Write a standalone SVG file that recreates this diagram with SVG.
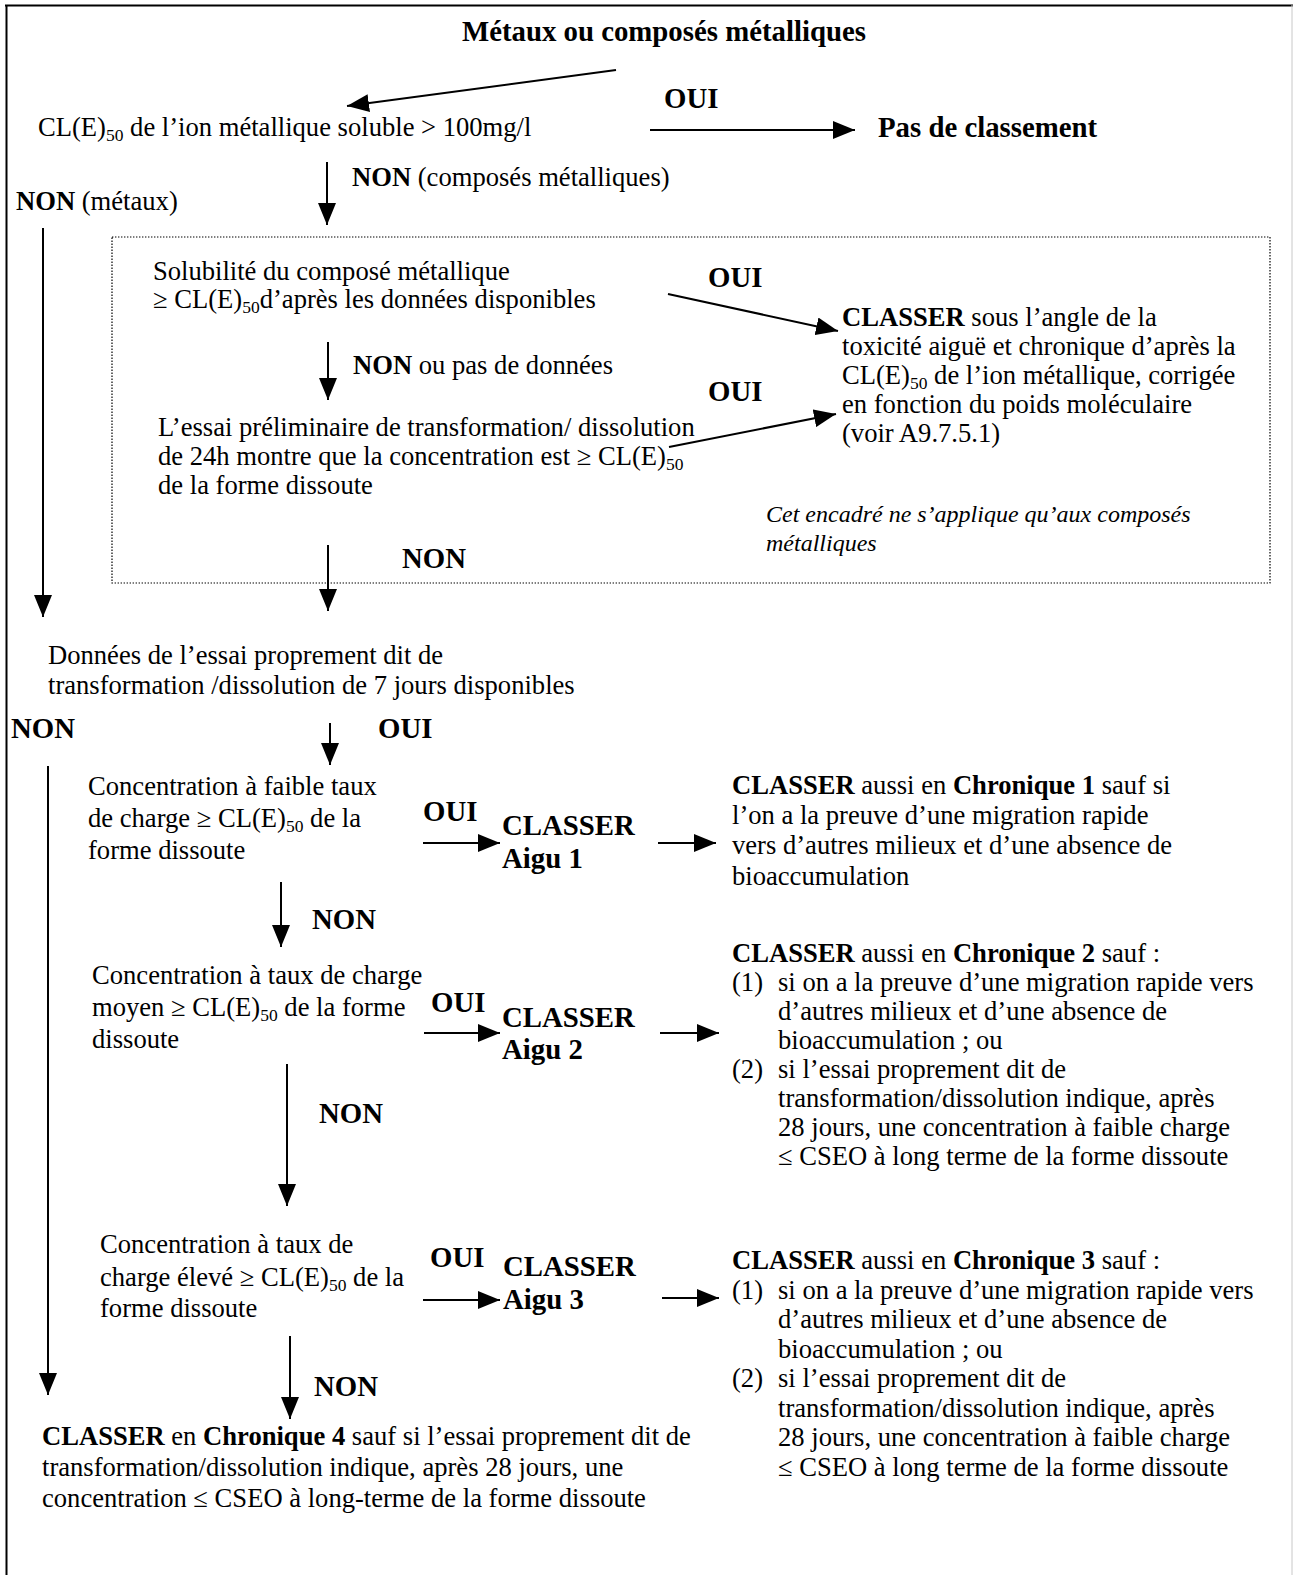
<svg xmlns="http://www.w3.org/2000/svg" width="1293" height="1575" viewBox="0 0 1293 1575">
<style>
.t{font-family:"Liberation Serif","Times New Roman",serif;font-size:26.6px;fill:#000}
.b{font-weight:bold}
.lbl{font-weight:bold;font-size:28.8px}
.s{font-size:17.5px}
.it{font-style:italic;font-size:24px}
.c{stroke:#000;stroke-width:2;fill:none;marker-end:url(#ah)}
.frame{stroke:#000;stroke-width:2;fill:none}
</style>
<defs>
<marker id="ah" viewBox="0 0 22 18" markerWidth="22" markerHeight="18" refX="22" refY="9" orient="auto" markerUnits="userSpaceOnUse">
<path d="M0,0 L22,9 L0,18 z" fill="#000"/>
</marker>
</defs>
<rect width="1293" height="1575" fill="#fff"/>
<g id="frame">
<line class="frame" x1="5" y1="5.5" x2="1293" y2="5.5"/>
<line class="frame" x1="6.5" y1="5" x2="6.5" y2="1575"/>
<line x1="1292" y1="5" x2="1292" y2="1575" stroke="#c8c8c8" stroke-width="1"/>
<rect id="metal-compounds-box" x="112" y="237" width="1158" height="346" fill="none" stroke="#000" stroke-width="1.2" stroke-dasharray="1.4 1.6"/>
</g>

<g id="connectors">
<line class="c" x1="616" y1="70" x2="347" y2="106"/>
<line class="c" x1="650" y1="130" x2="855" y2="130"/>
<line class="c" x1="327" y1="162" x2="327" y2="225"/>
<line class="c" x1="43" y1="228" x2="43" y2="617"/>
<line class="c" x1="668" y1="294" x2="838" y2="331"/>
<line class="c" x1="328" y1="342" x2="328" y2="400"/>
<line class="c" x1="669" y1="447" x2="836" y2="414"/>
<line class="c" x1="328" y1="545" x2="328" y2="611"/>
<line class="c" x1="330" y1="723" x2="330" y2="765"/>
<line class="c" x1="48" y1="766" x2="48" y2="1395"/>
<line class="c" x1="423" y1="843" x2="500" y2="843"/>
<line class="c" x1="658" y1="843" x2="716" y2="843"/>
<line class="c" x1="281" y1="882" x2="281" y2="947"/>
<line class="c" x1="424" y1="1033" x2="500" y2="1033"/>
<line class="c" x1="660" y1="1033" x2="719" y2="1033"/>
<line class="c" x1="287" y1="1064" x2="287" y2="1206"/>
<line class="c" x1="423" y1="1300" x2="500" y2="1300"/>
<line class="c" x1="662" y1="1298" x2="719" y2="1298"/>
<line class="c" x1="290" y1="1336" x2="290" y2="1419"/>
</g>

<g id="labels">
<text class="t lbl" x="664" y="108">OUI</text>
<text class="t" x="352" y="186"><tspan class="b">NON</tspan> (composés métalliques)</text>
<text class="t" x="16" y="210"><tspan class="b">NON</tspan> (métaux)</text>
<text class="t lbl" x="708" y="287">OUI</text>
<text class="t" x="353" y="374"><tspan class="b">NON</tspan> ou pas de données</text>
<text class="t lbl" x="708" y="401">OUI</text>
<text class="t lbl" x="402" y="568">NON</text>
<text class="t lbl" x="11" y="738">NON</text>
<text class="t lbl" x="378" y="738">OUI</text>
<text class="t lbl" x="423" y="821">OUI</text>
<text class="t lbl" x="312" y="929">NON</text>
<text class="t lbl" x="431" y="1012">OUI</text>
<text class="t lbl" x="319" y="1123">NON</text>
<text class="t lbl" x="430" y="1267">OUI</text>
<text class="t lbl" x="314" y="1396">NON</text>
</g>

<g id="n-title">
<text class="t lbl" x="462" y="41">Métaux ou composés métalliques</text>
</g>

<g id="n-lc50-ion">
<text class="t" x="38" y="136">CL(E)<tspan class="s" dy="5">50</tspan><tspan dy="-5"> de l’ion métallique soluble &gt; 100mg/l</tspan></text>
</g>

<g id="n-pas-classement">
<text class="t lbl" x="878" y="137">Pas de classement</text>
</g>

<g id="n-solubilite">
<text class="t" x="153" y="280">Solubilité du composé métallique</text>
<text class="t" x="153" y="308">≥ CL(E)<tspan class="s" dy="5">50</tspan><tspan dy="-5">d’après les données disponibles</tspan></text>
</g>

<g id="n-essai-24h">
<text class="t" x="158" y="436">L’essai préliminaire de transformation/ dissolution</text>
<text class="t" x="158" y="465">de 24h montre que la concentration est ≥ CL(E)<tspan class="s" dy="5">50</tspan></text>
<text class="t" x="158" y="494">de la forme dissoute</text>
</g>

<g id="n-classer-ion">
<text class="t" x="842" y="326"><tspan class="b">CLASSER</tspan> sous l’angle de la</text>
<text class="t" x="842" y="355">toxicité aiguë et chronique d’après la</text>
<text class="t" x="842" y="384">CL(E)<tspan class="s" dy="5">50</tspan><tspan dy="-5"> de l’ion métallique, corrigée</tspan></text>
<text class="t" x="842" y="413">en fonction du poids moléculaire</text>
<text class="t" x="842" y="442">(voir A9.7.5.1)</text>
</g>

<g id="n-note">
<text class="t it" x="766" y="522">Cet encadré ne s’applique qu’aux composés</text>
<text class="t it" x="766" y="551">métalliques</text>
</g>

<g id="n-essai-7j">
<text class="t" x="48" y="664">Données de l’essai proprement dit de</text>
<text class="t" x="48" y="694">transformation /dissolution de 7 jours disponibles</text>
</g>

<g id="n-faible">
<text class="t" x="88" y="795">Concentration à faible taux</text>
<text class="t" x="88" y="827">de charge ≥ CL(E)<tspan class="s" dy="5">50</tspan><tspan dy="-5"> de la</tspan></text>
<text class="t" x="88" y="859">forme dissoute</text>
</g>

<g id="n-aigu1">
<text class="t lbl" x="502" y="835">CLASSER</text>
<text class="t lbl" x="502" y="868">Aigu 1</text>
</g>

<g id="n-chronique1">
<text class="t" x="732" y="794"><tspan class="b">CLASSER</tspan> aussi en <tspan class="b">Chronique 1</tspan> sauf si</text>
<text class="t" x="732" y="824">l’on a la preuve d’une migration rapide</text>
<text class="t" x="732" y="854">vers d’autres milieux et d’une absence de</text>
<text class="t" x="732" y="885">bioaccumulation</text>
</g>

<g id="n-moyen">
<text class="t" x="92" y="984">Concentration à taux de charge</text>
<text class="t" x="92" y="1016">moyen ≥ CL(E)<tspan class="s" dy="5">50</tspan><tspan dy="-5"> de la forme</tspan></text>
<text class="t" x="92" y="1048">dissoute</text>
</g>

<g id="n-aigu2">
<text class="t lbl" x="502" y="1027">CLASSER</text>
<text class="t lbl" x="502" y="1059">Aigu 2</text>
</g>

<g id="n-chronique2">
<text class="t" x="732" y="962"><tspan class="b">CLASSER</tspan> aussi en <tspan class="b">Chronique 2</tspan> sauf :</text>
<text class="t" x="732" y="991">(1)<tspan x="778">si on a la preuve d’une migration rapide vers</tspan></text>
<text class="t" x="778" y="1020">d’autres milieux et d’une absence de</text>
<text class="t" x="778" y="1049">bioaccumulation ; ou</text>
<text class="t" x="732" y="1078">(2)<tspan x="778">si l’essai proprement dit de</tspan></text>
<text class="t" x="778" y="1107">transformation/dissolution indique, après</text>
<text class="t" x="778" y="1136">28 jours, une concentration à faible charge</text>
<text class="t" x="778" y="1165">≤ CSEO à long terme de la forme dissoute</text>
</g>

<g id="n-eleve">
<text class="t" x="100" y="1253">Concentration à taux de</text>
<text class="t" x="100" y="1286">charge élevé ≥ CL(E)<tspan class="s" dy="5">50</tspan><tspan dy="-5"> de la</tspan></text>
<text class="t" x="100" y="1317">forme dissoute</text>
</g>

<g id="n-aigu3">
<text class="t lbl" x="503" y="1276">CLASSER</text>
<text class="t lbl" x="503" y="1309">Aigu 3</text>
</g>

<g id="n-chronique3">
<text class="t" x="732" y="1269"><tspan class="b">CLASSER</tspan> aussi en <tspan class="b">Chronique 3</tspan> sauf :</text>
<text class="t" x="732" y="1298.5">(1)<tspan x="778">si on a la preuve d’une migration rapide vers</tspan></text>
<text class="t" x="778" y="1328">d’autres milieux et d’une absence de</text>
<text class="t" x="778" y="1357.5">bioaccumulation ; ou</text>
<text class="t" x="732" y="1387">(2)<tspan x="778">si l’essai proprement dit de</tspan></text>
<text class="t" x="778" y="1416.5">transformation/dissolution indique, après</text>
<text class="t" x="778" y="1446">28 jours, une concentration à faible charge</text>
<text class="t" x="778" y="1475.5">≤ CSEO à long terme de la forme dissoute</text>
</g>

<g id="n-chronique4">
<text class="t" x="42" y="1445"><tspan class="b">CLASSER</tspan> en <tspan class="b">Chronique 4</tspan> sauf si l’essai proprement dit de</text>
<text class="t" x="42" y="1476">transformation/dissolution indique, après 28 jours, une</text>
<text class="t" x="42" y="1507">concentration ≤ CSEO à long-terme de la forme dissoute</text>
</g>
</svg>
